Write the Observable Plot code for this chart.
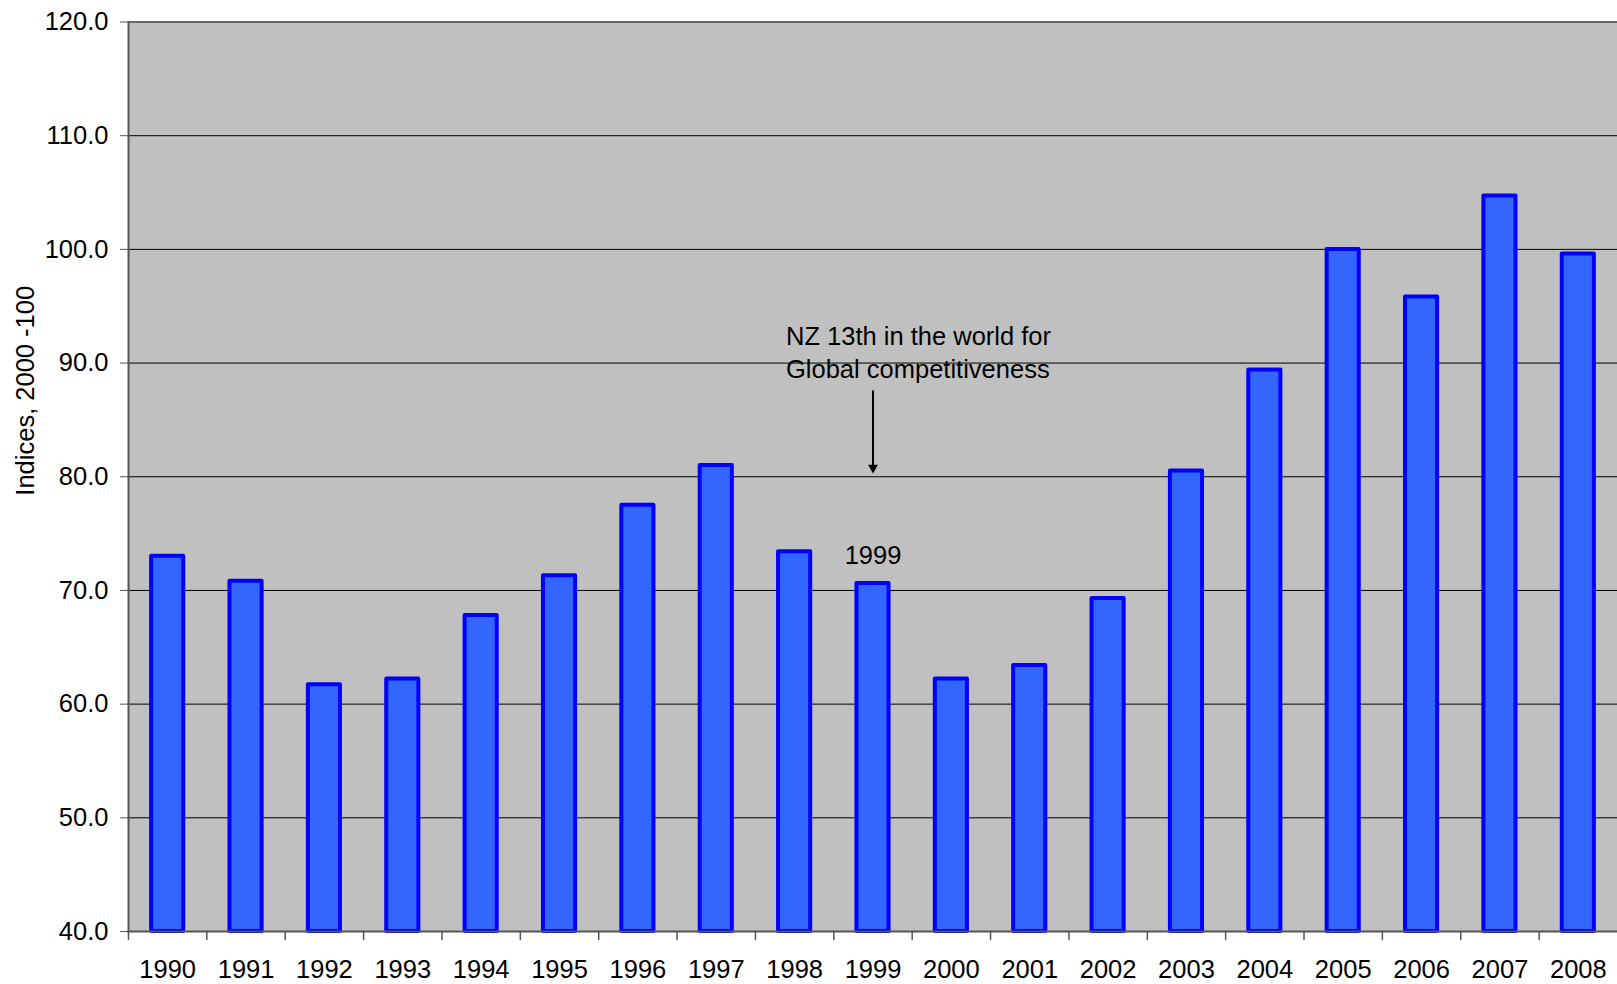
<!DOCTYPE html>
<html>
<head>
<meta charset="utf-8">
<script src="https://cdn.jsdelivr.net/npm/d3@7"></script>
<script src="https://cdn.jsdelivr.net/npm/@observablehq/plot@0.6"></script>
<style>
  html, body { margin: 0; padding: 0; background: #ffffff; }
  #chart svg { display: block; }
</style>
</head>
<body>
<div id="chart"></div>
<script>
// ---- data ----
const years = ["1990","1991","1992","1993","1994","1995","1996","1997","1998","1999",
               "2000","2001","2002","2003","2004","2005","2006","2007","2008"];
const values = [73.0, 70.8, 61.7, 62.2, 67.8, 71.3, 77.5, 81.0, 73.4, 70.6,
                62.2, 63.4, 69.3, 80.5, 89.4, 100.0, 95.8, 104.7, 99.6];
const yTicks = [40, 50, 60, 70, 80, 90, 100, 110, 120];
const yLabel = "Indices, 2000 -100";
const annotationLines = ["NZ 13th in the world for", "Global competitiveness"];
const annotationYear = "1999";
const annotationTextY = 93.75;
const arrowFrom = 87.6;
const arrowTo = 80.8;
const highlightYear = "1999";

const data = years.map((year, i) => ({year, value: values[i]}));

// ---- layout ----
const W = 1617, H = 984;
const mLeft = 128, mRight = 0, mTop = 21.5, mBottom = 53;
const step = (W - mLeft - mRight) / years.length;
const font = "'Liberation Sans', Arial, sans-serif";
const fs = 25.5;

const tickShape = {draw(context, l) { context.moveTo(0, 0); context.lineTo(0, -l); }};

const chart = Plot.plot({
  width: W,
  height: H,
  marginLeft: mLeft,
  marginRight: mRight,
  marginTop: mTop,
  marginBottom: mBottom,
  style: {fontFamily: font, fontSize: fs + "px", background: "#ffffff", color: "#000"},
  x: {type: "band", domain: years, paddingInner: 0.59, paddingOuter: 0.295, round: false, label: null},
  y: {domain: [40, 120], label: null},
  marks: [
    Plot.frame({fill: "#C0C0C0", stroke: null}),
    Plot.ruleY(yTicks, {stroke: "#000", strokeWidth: 1}),
    Plot.ruleY([120], {stroke: "#666", strokeWidth: 2}),
    Plot.barY(data, {x: "year", y1: 40, y2: "value", fill: "#3366FF", stroke: "#0000FF",
                     strokeWidth: 4, strokeLinejoin: "round"}),
    Plot.frame({anchor: "left", stroke: "#555", strokeWidth: 2}),
    Plot.frame({anchor: "bottom", stroke: "#555", strokeWidth: 2}),
    Plot.axisY({ticks: yTicks, tickFormat: d => d.toFixed(1), tickSize: 8, tickPadding: 12,
                stroke: "#555", fill: "#000", label: null, fontSize: fs}),
    Plot.axisX({tickSize: 0, tickPadding: 28, label: null, fill: "#000", fontSize: fs}),
    Plot.vector(years, {x: d => d, y: 40, length: 8, rotate: 180, anchor: "start",
                        shape: tickShape, stroke: "#555", strokeWidth: 1.5, dx: -step / 2}),
    Plot.text([yLabel], {frameAnchor: "left", textAnchor: "middle", dx: -103, dy: -86, rotate: -90,
                         fontSize: fs, fill: "#000"}),
    Plot.text([annotationLines.join("\n")], {x: () => annotationYear, y: annotationTextY,
              textAnchor: "start", lineAnchor: "top", lineHeight: 1.33, dx: -87,
              fontSize: fs, fill: "#000"}),
    Plot.link([{x: annotationYear}], {x1: "x", x2: "x", y1: arrowFrom, y2: arrowTo,
              stroke: "#000", strokeWidth: 2}),
    Plot.dot([{x: annotationYear}], {x: "x", y: arrowTo, symbol: "triangle", rotate: 180,
             r: 3.7, fill: "#000", stroke: null}),
    Plot.text(data.filter(d => d.year === highlightYear), {x: "year", y: "value",
              text: "year", dy: -28, fontSize: fs, fill: "#000"})
  ]
});

document.getElementById("chart").appendChild(chart);
</script>
</body>
</html>
